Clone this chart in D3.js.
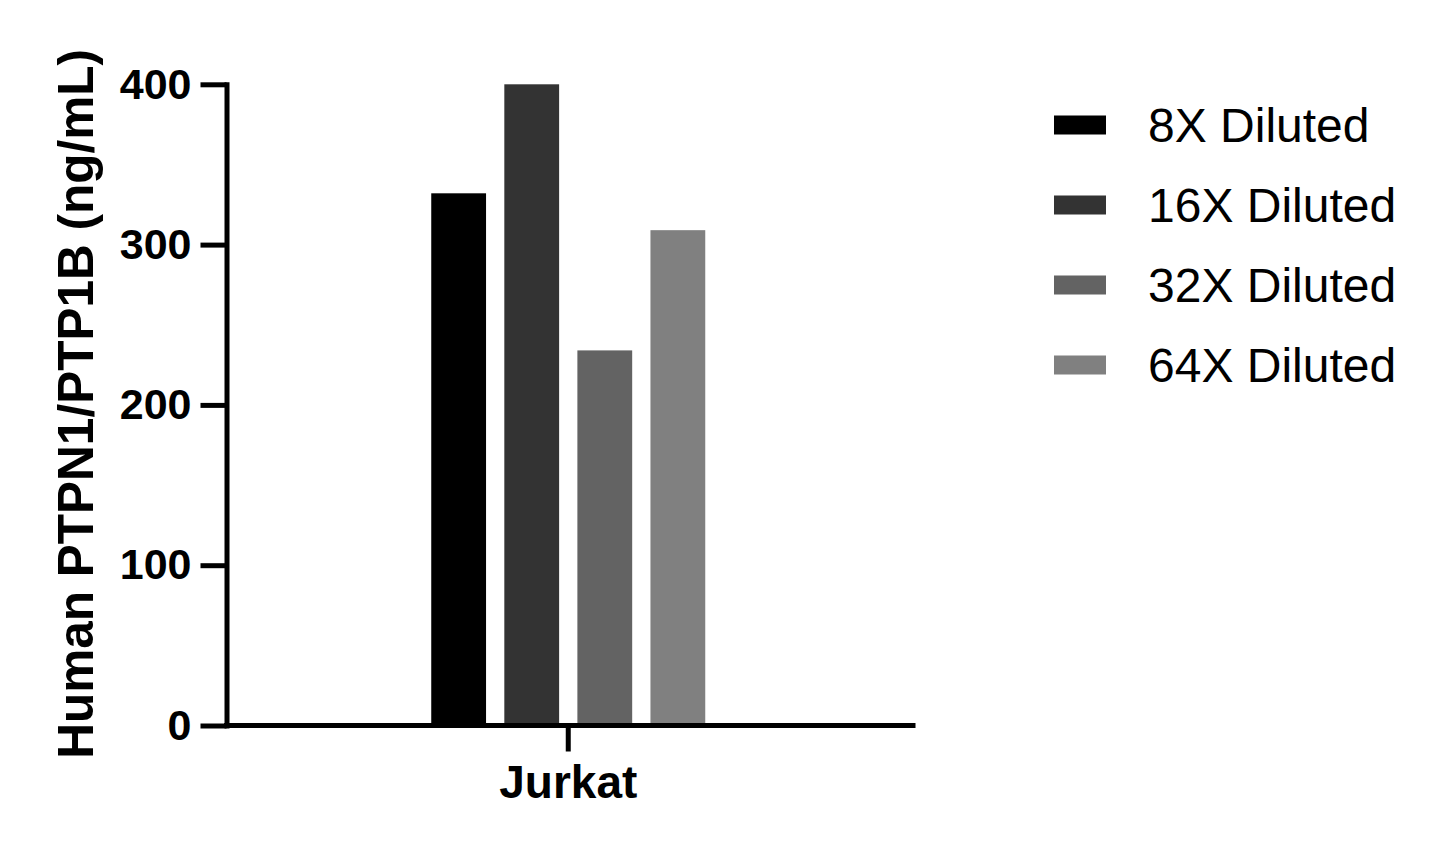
<!DOCTYPE html>
<html>
<head>
<meta charset="utf-8">
<script src="https://cdn.jsdelivr.net/npm/d3@7"></script>
<style>
  html, body { margin: 0; padding: 0; background: #fff; }
  svg { display: block; font-family: Arial, "Liberation Sans", sans-serif; }
</style>
</head>
<body>
<svg id="chart" width="1442" height="847"></svg>
<script>
const categories = ["Jurkat"];
const series = ["8X Diluted", "16X Diluted", "32X Diluted", "64X Diluted"];
const values = [332, 400, 234, 309];
const colors = ["#000000", "#333333", "#636363", "#808080"];
const yTicks = [0, 100, 200, 300, 400];
const yLabel = "Human PTPN1/PTP1B (ng/mL)";

(function () {
const svg = d3.select("#chart");
const mLeft = 226.5, mRight = 913, mTop = 84.3, mBottom = 725.5;

const y = d3.scaleLinear().domain([0, 400]).range([mBottom, mTop]);
const x0 = d3.scaleBand().domain(categories).range([mLeft - 1.5, mRight - 1.5]).paddingInner(0).paddingOuter(0.7527);
const x1 = d3.scaleBand().domain(series).range([0, x0.bandwidth()]).paddingInner(0.25).paddingOuter(0);

// bars
const data = series.map((s, i) => ({ cat: categories[0], s, v: values[i], c: colors[i] }));
svg.append("g").selectAll("rect").data(data).join("rect")
  .attr("x", d => x0(d.cat) + x1(d.s))
  .attr("width", x1.bandwidth())
  .attr("y", d => y(d.v))
  .attr("height", d => y(0) - y(d.v))
  .attr("fill", d => d.c);

// y axis
const yAxis = svg.append("g").attr("transform", `translate(${mLeft},0)`)
  .call(d3.axisLeft(y).tickValues(yTicks).tickSize(26).tickPadding(9).tickSizeOuter(0));
yAxis.select(".domain").attr("stroke", "#000").attr("stroke-width", 5).attr("stroke-linecap", "square");
yAxis.selectAll(".tick line").attr("stroke", "#000").attr("stroke-width", 5);
yAxis.selectAll(".tick text").attr("fill", "#000").attr("font-size", 43).attr("font-weight", "bold")
  .attr("font-family", "Arial, 'Liberation Sans', sans-serif");

// x axis
const xAxis = svg.append("g").attr("transform", `translate(0,${mBottom})`)
  .call(d3.axisBottom(x0).tickSize(26).tickPadding(14).tickSizeOuter(0));
xAxis.select(".domain").attr("stroke", "#000").attr("stroke-width", 5).attr("stroke-linecap", "square")
  .attr("d", `M${mLeft},0H${mRight}`);
xAxis.selectAll(".tick line").attr("stroke", "#000").attr("stroke-width", 5);
xAxis.selectAll(".tick text").attr("fill", "#000").attr("font-size", 46).attr("font-weight", "bold")
  .attr("font-family", "Arial, 'Liberation Sans', sans-serif");

// y label
svg.append("text")
  .attr("transform", `translate(93,${(mTop + mBottom) / 2 - 1}) rotate(-90)`)
  .attr("text-anchor", "middle")
  .attr("font-size", 49.5).attr("font-weight", "bold").attr("fill", "#000")
  .text(yLabel);

// legend
const legend = svg.append("g");
const lg = legend.selectAll("g").data(series).join("g")
  .attr("transform", (d, i) => `translate(1054,${125 + i * 80})`);
lg.append("rect").attr("x", 0).attr("y", -9.5).attr("width", 52).attr("height", 19)
  .attr("fill", (d, i) => colors[i]);
lg.append("text").attr("x", 94).attr("y", 17).attr("font-size", 48).attr("fill", "#000")
  .text(d => d);
})();
</script>
</body>
</html>
